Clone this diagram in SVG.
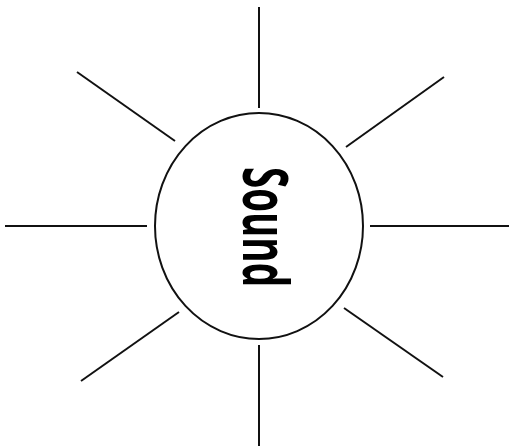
<svg xmlns="http://www.w3.org/2000/svg" width="509" height="448" viewBox="0 0 509 448">
<style>
.ray{stroke:#111;stroke-width:2;stroke-linecap:butt;fill:none}
.hub{fill:#fff;stroke:#111;stroke-width:2}
.lbl{font-family:"Open Sans","DejaVu Sans",sans-serif;font-weight:bold;font-size:63px;fill:#000}
</style>
<rect width="509" height="448" fill="#fff"/>
<g id="connectors">
<line class="ray" x1="259" y1="7" x2="259" y2="108"/>
<line class="ray" x1="259" y1="345" x2="259" y2="446"/>
<line class="ray" x1="5" y1="226" x2="147" y2="226"/>
<line class="ray" x1="370" y1="226" x2="509" y2="226"/>
<line class="ray" x1="77" y1="72" x2="175" y2="141"/>
<line class="ray" x1="346" y1="147" x2="444" y2="77"/>
<line class="ray" x1="81" y1="381" x2="179" y2="312"/>
<line class="ray" x1="344" y1="308" x2="443" y2="377"/>
</g>
<g id="sound">
<ellipse class="hub" cx="259" cy="226" rx="104" ry="113"/>
<text class="lbl" transform="translate(243,227) rotate(90)" x="0" y="0" text-anchor="middle" textLength="120" lengthAdjust="spacingAndGlyphs">Sound</text>
</g>
</svg>
